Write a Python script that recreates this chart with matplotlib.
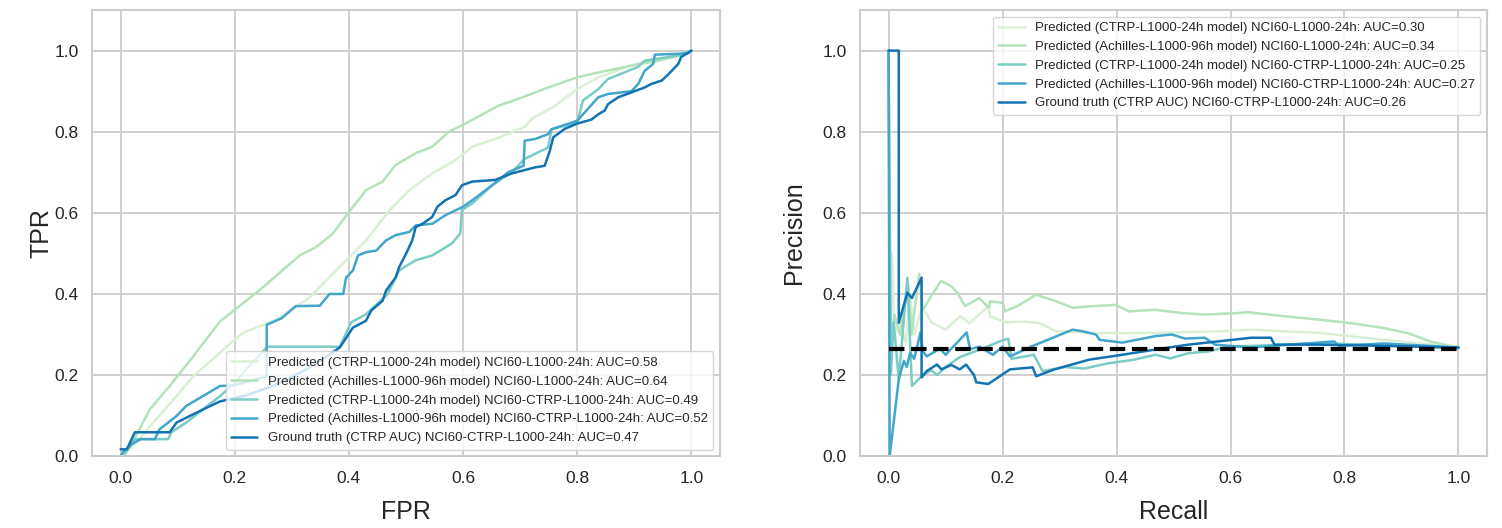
import matplotlib
matplotlib.use("Agg")
import matplotlib.pyplot as plt
import seaborn as sns

sns.set_theme(style="whitegrid")
plt.rcParams["font.family"] = ["Liberation Sans", "DejaVu Sans"]

labels_roc = [
    "Predicted (CTRP-L1000-24h model) NCI60-L1000-24h: AUC=0.58",
    "Predicted (Achilles-L1000-96h model) NCI60-L1000-24h: AUC=0.64",
    "Predicted (CTRP-L1000-24h model) NCI60-CTRP-L1000-24h: AUC=0.49",
    "Predicted (Achilles-L1000-96h model) NCI60-CTRP-L1000-24h: AUC=0.52",
    "Ground truth (CTRP AUC) NCI60-CTRP-L1000-24h: AUC=0.47",
]
labels_pr = [
    "Predicted (CTRP-L1000-24h model) NCI60-L1000-24h: AUC=0.30",
    "Predicted (Achilles-L1000-96h model) NCI60-L1000-24h: AUC=0.34",
    "Predicted (CTRP-L1000-24h model) NCI60-CTRP-L1000-24h: AUC=0.25",
    "Predicted (Achilles-L1000-96h model) NCI60-CTRP-L1000-24h: AUC=0.27",
    "Ground truth (CTRP AUC) NCI60-CTRP-L1000-24h: AUC=0.26",
]

# ROC curves
fpr_ctrp_l1000 = [0.0, 0.01, 0.033, 0.057, 0.098, 0.127, 0.15, 0.18, 0.214, 0.273, 0.314, 0.33, 0.372, 0.4,
                  0.43, 0.471, 0.506, 0.546, 0.587, 0.616, 0.662, 0.709, 0.72, 0.761, 0.8, 0.837, 0.895,
                  0.924, 0.977, 1.0]
tpr_ctrp_l1000 = [0.0, 0.01, 0.042, 0.083, 0.148, 0.197, 0.225, 0.263, 0.304, 0.337, 0.375, 0.39, 0.45, 0.49,
                  0.532, 0.606, 0.656, 0.697, 0.73, 0.763, 0.785, 0.813, 0.831, 0.864, 0.905, 0.934, 0.963,
                  0.975, 0.988, 1.0]

fpr_ach_l1000 = [0.0, 0.01, 0.027, 0.051, 0.086, 0.127, 0.174, 0.244, 0.285, 0.314, 0.343, 0.372, 0.4, 0.43,
                 0.459, 0.482, 0.517, 0.546, 0.575, 0.6, 0.633, 0.662, 0.697, 0.749, 0.8, 0.837, 0.895,
                 0.942, 0.98, 1.0]
tpr_ach_l1000 = [0.0, 0.01, 0.05, 0.115, 0.173, 0.246, 0.332, 0.41, 0.46, 0.495, 0.516, 0.549, 0.602, 0.656,
                 0.677, 0.718, 0.747, 0.763, 0.8, 0.817, 0.842, 0.864, 0.881, 0.909, 0.934, 0.946, 0.963,
                 0.975, 0.988, 1.0]

fpr_ctrp_ctrp = [0.0, 0.004, 0.016, 0.025, 0.083, 0.089, 0.115, 0.144, 0.174, 0.2, 0.23, 0.257, 0.384, 0.404,
                 0.43, 0.468, 0.488, 0.517, 0.546, 0.58, 0.595, 0.598, 0.616, 0.651, 0.685, 0.708, 0.749,
                 0.755, 0.8, 0.81, 0.837, 0.854, 0.907, 0.918, 0.977, 1.0]
tpr_ctrp_ctrp = [0.0, 0.0, 0.025, 0.042, 0.042, 0.059, 0.083, 0.115, 0.148, 0.18, 0.23, 0.27, 0.27, 0.33,
                 0.35, 0.4, 0.458, 0.483, 0.495, 0.524, 0.549, 0.607, 0.623, 0.668, 0.7, 0.733, 0.761,
                 0.806, 0.823, 0.877, 0.905, 0.93, 0.96, 0.975, 0.988, 1.0]

fpr_ach_ctrp = [0.0, 0.004, 0.02, 0.035, 0.06, 0.068, 0.098, 0.115, 0.144, 0.174, 0.2, 0.256, 0.256, 0.282,
                0.307, 0.349, 0.366, 0.39, 0.395, 0.407, 0.416, 0.43, 0.448, 0.465, 0.482, 0.506, 0.517,
                0.546, 0.569, 0.6, 0.616, 0.651, 0.679, 0.706, 0.708, 0.726, 0.749, 0.755, 0.8, 0.837,
                0.854, 0.895, 0.907, 0.918, 0.933, 0.936, 0.994, 1.0]
tpr_ach_ctrp = [0.0, 0.01, 0.03, 0.042, 0.042, 0.066, 0.099, 0.124, 0.148, 0.173, 0.175, 0.197, 0.324, 0.34,
                0.37, 0.371, 0.4, 0.4, 0.44, 0.458, 0.495, 0.503, 0.507, 0.532, 0.545, 0.553, 0.569,
                0.573, 0.594, 0.615, 0.631, 0.668, 0.7, 0.716, 0.778, 0.782, 0.794, 0.806, 0.827, 0.885,
                0.893, 0.9, 0.918, 0.95, 0.967, 0.99, 0.993, 1.0]

fpr_truth = [0.0, 0.011, 0.025, 0.086, 0.098, 0.121, 0.144, 0.174, 0.22, 0.27, 0.32, 0.36, 0.384, 0.407,
             0.43, 0.439, 0.459, 0.465, 0.482, 0.488, 0.5, 0.511, 0.517, 0.529, 0.546, 0.555, 0.569,
             0.587, 0.598, 0.616, 0.656, 0.685, 0.726, 0.743, 0.752, 0.758, 0.778, 0.8, 0.825, 0.837,
             0.848, 0.854, 0.872, 0.895, 0.918, 0.93, 0.948, 0.96, 0.977, 0.982, 1.0]
tpr_truth = [0.017, 0.017, 0.059, 0.059, 0.083, 0.099, 0.115, 0.135, 0.15, 0.175, 0.21, 0.245, 0.268, 0.317,
             0.334, 0.359, 0.383, 0.408, 0.441, 0.466, 0.499, 0.532, 0.565, 0.573, 0.59, 0.615, 0.631,
             0.644, 0.668, 0.677, 0.681, 0.697, 0.712, 0.716, 0.753, 0.786, 0.807, 0.82, 0.83, 0.843,
             0.852, 0.868, 0.885, 0.897, 0.909, 0.918, 0.926, 0.942, 0.967, 0.984, 1.0]

# precision-recall curves
rec_ctrp_l1000 = [0.0, 0.003, 0.006, 0.01, 0.021, 0.03, 0.038, 0.045, 0.059, 0.075, 0.1, 0.126, 0.142, 0.176,
                  0.178, 0.207, 0.236, 0.265, 0.294, 0.352, 0.41, 0.468, 0.526, 0.584, 0.636, 0.695, 0.753,
                  0.811, 0.869, 0.927, 0.985, 1.0]
prec_ctrp_l1000 = [1.0, 0.3, 0.5, 0.3, 0.33, 0.28, 0.39, 0.3, 0.37, 0.33, 0.312, 0.345, 0.328, 0.37,
                   0.345, 0.33, 0.332, 0.328, 0.308, 0.304, 0.303, 0.304, 0.306, 0.308, 0.312, 0.308, 0.304,
                   0.296, 0.287, 0.279, 0.271, 0.27]

rec_ach_l1000 = [0.0, 0.004, 0.01, 0.02, 0.035, 0.04, 0.054, 0.06, 0.075, 0.092, 0.109, 0.121, 0.134, 0.159,
                 0.176, 0.178, 0.201, 0.204, 0.226, 0.259, 0.294, 0.323, 0.36, 0.398, 0.422, 0.468, 0.514,
                 0.555, 0.613, 0.63, 0.695, 0.753, 0.811, 0.869, 0.912, 0.95, 0.985, 1.0]
prec_ach_l1000 = [1.0, 0.25, 0.35, 0.3, 0.42, 0.3, 0.45, 0.36, 0.395, 0.432, 0.42, 0.403, 0.37, 0.39,
                  0.366, 0.382, 0.378, 0.357, 0.37, 0.398, 0.382, 0.366, 0.37, 0.373, 0.357, 0.361, 0.353,
                  0.349, 0.353, 0.355, 0.345, 0.337, 0.328, 0.316, 0.303, 0.283, 0.272, 0.27]

rec_ctrp_ctrp = [0.0, 0.004, 0.009, 0.018, 0.033, 0.041, 0.06, 0.075, 0.085, 0.1, 0.126, 0.159, 0.195, 0.21,
                 0.216, 0.255, 0.27, 0.31, 0.343, 0.385, 0.427, 0.469, 0.494, 0.526, 0.561, 0.594, 0.678,
                 0.762, 0.845, 0.929, 1.0]
prec_ctrp_ctrp = [1.0, 0.2, 0.33, 0.19, 0.44, 0.173, 0.2, 0.212, 0.2, 0.22, 0.245, 0.262, 0.283, 0.29,
                  0.24, 0.25, 0.21, 0.22, 0.216, 0.229, 0.237, 0.25, 0.241, 0.254, 0.258, 0.27, 0.274,
                  0.279, 0.274, 0.27, 0.266]

rec_ach_ctrp = [0.0, 0.002, 0.018, 0.027, 0.032, 0.038, 0.045, 0.056, 0.06, 0.067, 0.09, 0.1, 0.125, 0.137,
                0.143, 0.16, 0.183, 0.2, 0.213, 0.25, 0.323, 0.34, 0.364, 0.37, 0.41, 0.468, 0.497, 0.52,
                0.555, 0.573, 0.636, 0.753, 0.782, 0.79, 0.869, 1.0]
prec_ach_ctrp = [1.0, 0.0, 0.19, 0.235, 0.22, 0.255, 0.24, 0.305, 0.26, 0.246, 0.265, 0.25, 0.287, 0.305,
                 0.264, 0.27, 0.25, 0.27, 0.246, 0.27, 0.312, 0.308, 0.3, 0.287, 0.28, 0.296, 0.3, 0.29,
                 0.292, 0.275, 0.268, 0.28, 0.283, 0.272, 0.278, 0.268]

rec_truth = [0.0, 0.018, 0.018, 0.033, 0.041, 0.058, 0.058, 0.067, 0.085, 0.093, 0.11, 0.125, 0.136, 0.15,
             0.154, 0.175, 0.213, 0.253, 0.259, 0.291, 0.352, 0.41, 0.468, 0.526, 0.578, 0.636, 0.671,
             0.677, 0.753, 0.87, 1.0]
prec_truth = [1.0, 1.0, 0.329, 0.403, 0.39, 0.44, 0.194, 0.21, 0.226, 0.214, 0.225, 0.214, 0.226, 0.2,
              0.182, 0.178, 0.214, 0.219, 0.197, 0.214, 0.238, 0.25, 0.263, 0.275, 0.283, 0.292, 0.292,
              0.275, 0.275, 0.272, 0.268]

baseline = 0.265

roc_x = [fpr_ctrp_l1000, fpr_ach_l1000, fpr_ctrp_ctrp, fpr_ach_ctrp, fpr_truth]
roc_y = [tpr_ctrp_l1000, tpr_ach_l1000, tpr_ctrp_ctrp, tpr_ach_ctrp, tpr_truth]
pr_x = [rec_ctrp_l1000, rec_ach_l1000, rec_ctrp_ctrp, rec_ach_ctrp, rec_truth]
pr_y = [prec_ctrp_l1000, prec_ach_l1000, prec_ctrp_ctrp, prec_ach_ctrp, prec_truth]

colors = sns.color_palette("GnBu", 5)

fig = plt.figure(figsize=(15.02, 5.28), dpi=100)
ax1 = fig.add_axes([0.0613, 0.136, 0.418, 0.845])
ax2 = fig.add_axes([0.5726, 0.136, 0.4174, 0.845])

for x, y, c, lab in zip(roc_x, roc_y, colors, labels_roc):
    ax1.plot(x, y, color=c, lw=1.8, label=lab)

for x, y, c, lab in zip(pr_x, pr_y, colors, labels_pr):
    ax2.plot(x, y, color=c, lw=1.8, label=lab)
ax2.plot([0, 1], [baseline, baseline], color="black", lw=3, linestyle="--")

for ax, xl, yl, ypad in [(ax1, "FPR", "TPR", 1), (ax2, "Recall", "Precision", 12)]:
    ax.set_xlim(-0.05, 1.05)
    ax.set_ylim(0, 1.1)
    ax.set_xticks([0, 0.2, 0.4, 0.6, 0.8, 1.0])
    ax.set_yticks([0, 0.2, 0.4, 0.6, 0.8, 1.0])
    ax.tick_params(axis="both", labelsize=12.5, colors=".15")
    ax.tick_params(axis="x", pad=5)
    ax.set_xlabel(xl, fontsize=18, color=".15", labelpad=10)
    ax.set_ylabel(yl, fontsize=18, color=".15", labelpad=ypad)
    ax.grid(True, color=".8", lw=1.3)
    for s in ax.spines.values():
        s.set_color(".8")
        s.set_linewidth(1.5)

ax1.legend(loc="lower right", fontsize=9.5, edgecolor=".8")
ax2.legend(loc="upper right", fontsize=9.5, edgecolor=".8")

fig.savefig("out.png", dpi=100)
